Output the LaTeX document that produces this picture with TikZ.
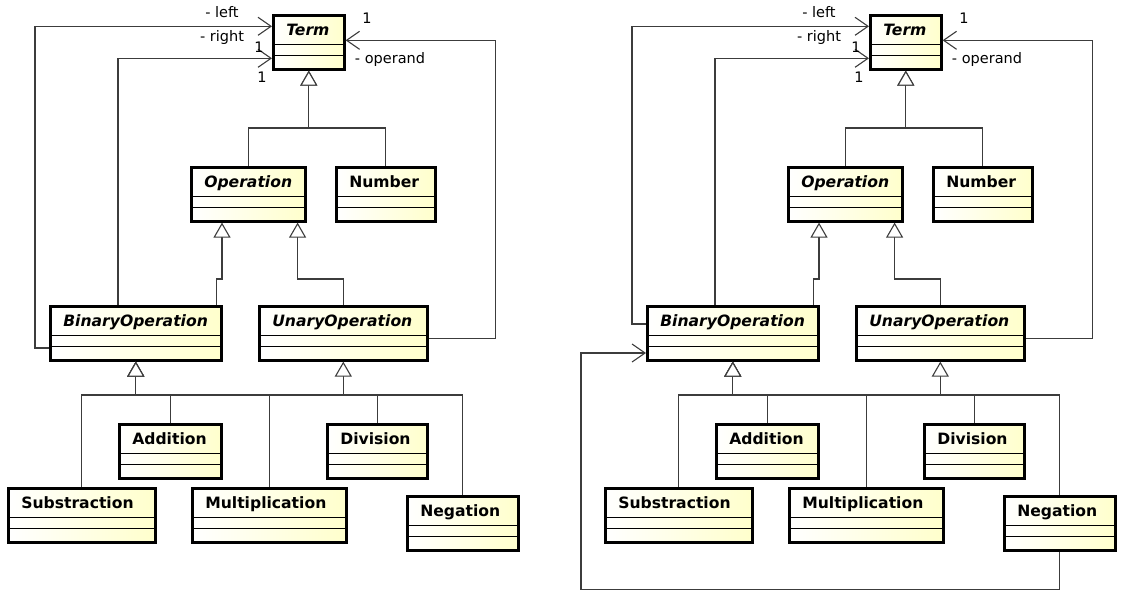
\documentclass[tikz,border=0pt]{standalone}
\usepackage{fontspec}
\setmainfont{DejaVu Sans}
\usetikzlibrary{arrows.meta}
\definecolor{umlfill}{RGB}{255,255,204}
\definecolor{umlline}{RGB}{60,60,60}

\begin{document}
\begin{tikzpicture}[x=1pt,y=-1pt,
  cls/.style={draw, line width=2.6pt, anchor=north west,
    inner xsep=13pt, inner ysep=0pt, text width=#1, align=left,
    text height=20.5pt, text depth=33.5pt,
    left color=white, right color=umlfill,
    font=\fontsize{15.6}{18}\selectfont\bfseries,
    path picture={
      \draw[line width=0.9pt] ([yshift=-29.5pt]path picture bounding box.north west) -- ([yshift=-29.5pt]path picture bounding box.north east);
      \draw[line width=0.9pt] ([yshift=-40pt]path picture bounding box.north west) -- ([yshift=-40pt]path picture bounding box.north east);}},
  gen/.style={draw=umlline, line width=1.1pt, -{Triangle[open,length=15pt,width=17pt,fill=white]}},
  assoc/.style={draw=umlline, line width=1.1pt, -{Straight Barb[length=13pt,width=18pt]}},
  lbl/.style={font=\fontsize{14.5}{17}\selectfont, inner sep=0pt}]
\useasboundingbox (0,0) rectangle (1124,598);

\foreach \p/\dx/\ly in {L/0/43, R/597/19}{
  % classes
  \node[cls=45pt] (term\p) at (272+\dx,14) {\itshape Term};
  \node[cls=88pt] (oper\p) at (190+\dx,166) {\itshape Operation};
  \node[cls=73pt] (num\p) at (335+\dx,166) {Number};
  \node[cls=145pt] (bin\p) at (49+\dx,305) {\itshape BinaryOperation};
  \node[cls=142pt] (una\p) at (258+\dx,305) {\itshape UnaryOperation};
  \node[cls=76pt] (add\p) at (118+\dx,423) {Addition};
  \node[cls=74pt] (div\p) at (326+\dx,423) {Division};
  \node[cls=121pt] (sub\p) at (7+\dx,487) {Substraction};
  \node[cls=128pt] (mul\p) at (191+\dx,487) {Multiplication};
  \node[cls=85pt] (neg\p) at (406+\dx,495) {Negation};
  \coordinate (bus\p) at (0,395);

  % generalizations
  \draw[gen] (oper\p.north) -- ++(0,-38) -| (term\p.south);
  \draw[gen] (num\p.north) -- ++(0,-38) -| (term\p.south);
  \draw[gen] ([xshift=-6pt]bin\p.north east) -- ++(0,-26) -| ([xshift=32pt]oper\p.south west);
  \draw[gen] (una\p.north) -- ++(0,-26) -| ([xshift=-9pt]oper\p.south east);
  \foreach \c in {sub,add,mul,div}
    \draw[gen] (\c\p.north) -- (\c\p.north |- bus\p) -| (bin\p.south);
  \draw[gen] (neg\p.north) -- (neg\p.north |- bus\p) -| (una\p.south);

  % associations
  \draw[assoc] ([yshift=-\ly pt]bin\p.north west) -- ++(-14,0) |- ([yshift=16pt]term\p.west);
  \draw[assoc] ([xshift=69pt]bin\p.north west) |- ([yshift=-16pt]term\p.west);
  \draw[assoc] ([yshift=-5pt]una\p.east) -- ++(67,0) |- ([yshift=2pt]term\p.east);

  \node[lbl] (left\p) at (222+\dx,12) {- left};
  \node[lbl] (right\p) at (222+\dx,37) {- right};
  \node[lbl] (oneleft\p) at (259+\dx,47) {1};
  \node[lbl] (oneright\p) at (262+\dx,77) {1};
  \node[lbl] (oneop\p) at (367+\dx,18) {1};
  \node[lbl] (operand\p) at (390+\dx,59) {- operand};
}

\draw[assoc] (negR.south) -- ++(0,38) -| ([xshift=-65pt,yshift=-48pt]binR.north west) -- ([yshift=-48pt]binR.north west);
\end{tikzpicture}
\end{document}
